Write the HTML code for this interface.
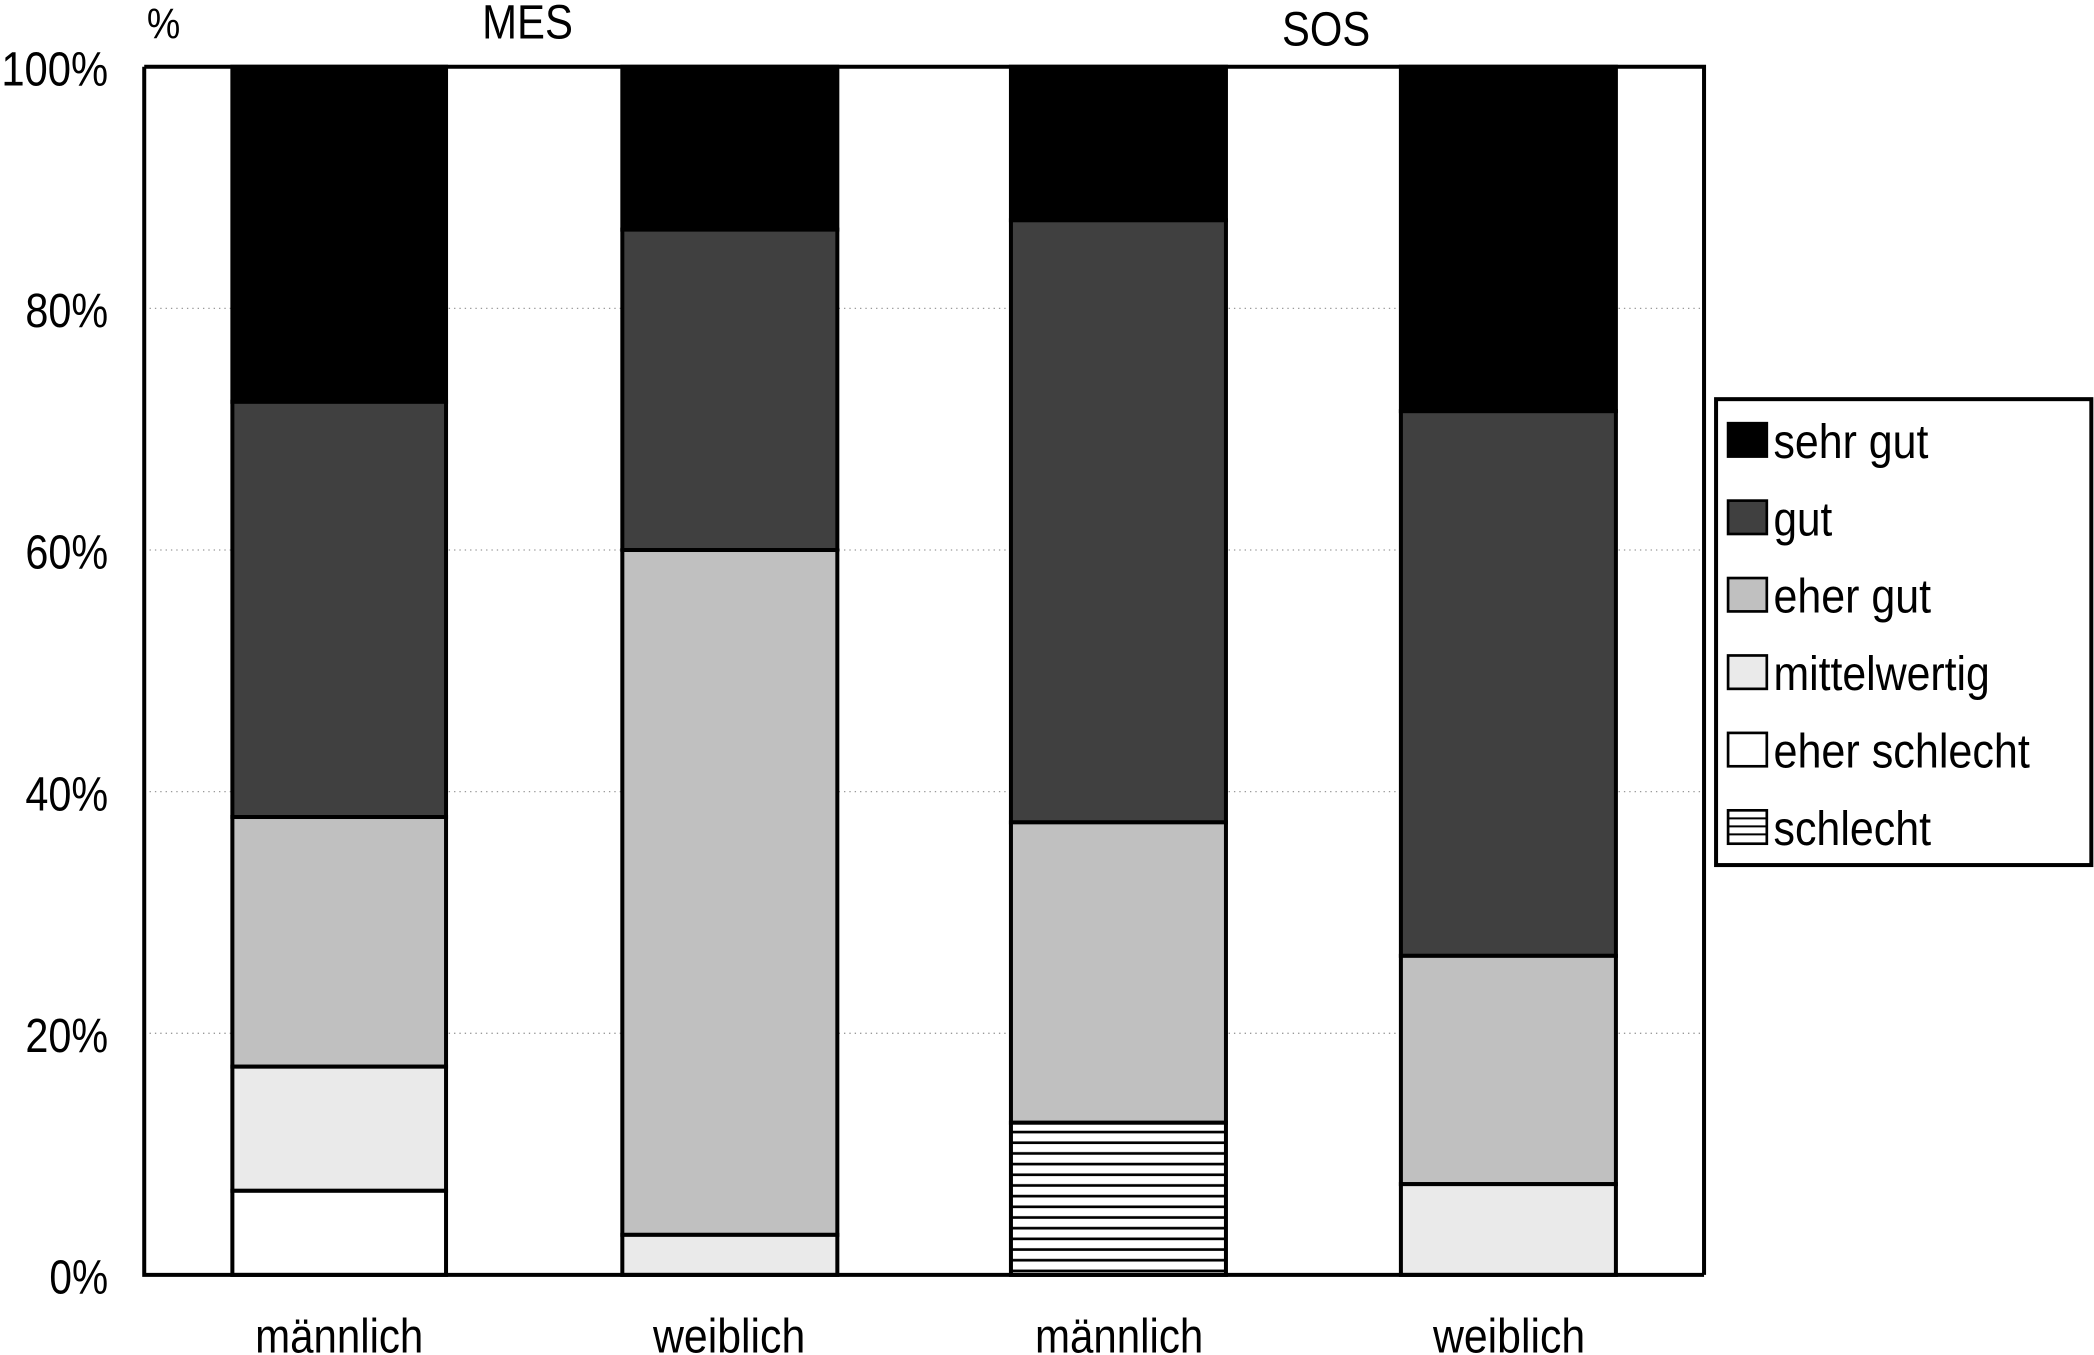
<!DOCTYPE html>
<html><head><meta charset="utf-8"><style>html,body{margin:0;padding:0;background:#fff}svg{display:block}</style></head>
<body>
<svg width="2094" height="1355" viewBox="0 0 1568 1015" preserveAspectRatio="none" xmlns="http://www.w3.org/2000/svg" font-family="Liberation Sans Narrow, Liberation Sans, sans-serif">
<defs>
<pattern id="h" width="10" height="8" patternUnits="userSpaceOnUse" y="841">
<rect width="10" height="8" fill="#fff"/><rect y="6" width="10" height="2" fill="#000"/>
</pattern>
</defs>
<g stroke="#999" stroke-width="1" stroke-dasharray="1,3">
<line x1="108" y1="231" x2="1276" y2="231"/><line x1="108" y1="412" x2="1276" y2="412"/>
<line x1="108" y1="593" x2="1276" y2="593"/><line x1="108" y1="774" x2="1276" y2="774"/>
</g>
<g stroke="#000" stroke-width="3">
<rect x="174" y="50" width="160" height="251" fill="#000"/>
<rect x="174" y="301" width="160" height="311" fill="#404040"/>
<rect x="174" y="612" width="160" height="187" fill="#c0c0c0"/>
<rect x="174" y="799" width="160" height="93" fill="#eaeaea"/>
<rect x="174" y="892" width="160" height="63" fill="#fff"/>
<rect x="466" y="50" width="161" height="122" fill="#000"/>
<rect x="466" y="172" width="161" height="240" fill="#404040"/>
<rect x="466" y="412" width="161" height="513" fill="#c0c0c0"/>
<rect x="466" y="925" width="161" height="30" fill="#eaeaea"/>
<rect x="757" y="50" width="161" height="115" fill="#000"/>
<rect x="757" y="165" width="161" height="451" fill="#404040"/>
<rect x="757" y="616" width="161" height="225" fill="#c0c0c0"/>
<rect x="757" y="841" width="161" height="114" fill="url(#h)"/>
<rect x="1049" y="50" width="161" height="258" fill="#000"/>
<rect x="1049" y="308" width="161" height="408" fill="#404040"/>
<rect x="1049" y="716" width="161" height="171" fill="#c0c0c0"/>
<rect x="1049" y="887" width="161" height="68" fill="#eaeaea"/>
</g>
<path d="M108 50 H1276 V955 M108 50 V955 H1276" fill="none" stroke="#000" stroke-width="3"/>
<g font-size="36" text-anchor="end" lengthAdjust="spacingAndGlyphs">
<text x="81" y="64" textLength="80" lengthAdjust="spacingAndGlyphs">100%</text>
<text x="81" y="245" textLength="62" lengthAdjust="spacingAndGlyphs">80%</text>
<text x="81" y="426" textLength="62" lengthAdjust="spacingAndGlyphs">60%</text>
<text x="81" y="607" textLength="62" lengthAdjust="spacingAndGlyphs">40%</text>
<text x="81" y="788" textLength="62" lengthAdjust="spacingAndGlyphs">20%</text>
<text x="81" y="969" textLength="44" lengthAdjust="spacingAndGlyphs">0%</text>
</g>
<g font-size="36" text-anchor="middle">
<text x="254" y="1013" textLength="126" lengthAdjust="spacingAndGlyphs">männlich</text>
<text x="546" y="1013" textLength="114" lengthAdjust="spacingAndGlyphs">weiblich</text>
<text x="838" y="1013" textLength="126" lengthAdjust="spacingAndGlyphs">männlich</text>
<text x="1130" y="1013" textLength="114" lengthAdjust="spacingAndGlyphs">weiblich</text>
<text x="395" y="29" textLength="68" lengthAdjust="spacingAndGlyphs">MES</text>
<text x="993" y="34" textLength="66" lengthAdjust="spacingAndGlyphs">SOS</text>
</g>
<text x="110" y="29" font-size="32" textLength="25" lengthAdjust="spacingAndGlyphs">%</text>
<rect x="1285" y="299" width="281" height="349" fill="#fff" stroke="#000" stroke-width="3"/>
<g stroke="#000" stroke-width="2">
<rect x="1294" y="317" width="29" height="25" fill="#000"/>
<rect x="1294" y="375" width="29" height="25" fill="#404040"/>
<rect x="1294" y="433" width="29" height="25" fill="#c0c0c0"/>
<rect x="1294" y="491" width="29" height="25" fill="#eaeaea"/>
<rect x="1294" y="549" width="29" height="25" fill="#fff"/>
<rect x="1294" y="607" width="29" height="25" fill="#fff"/>
</g>
<g stroke="#000" stroke-width="1.5">
<line x1="1294" y1="613" x2="1323" y2="613"/><line x1="1294" y1="619" x2="1323" y2="619"/><line x1="1294" y1="625" x2="1323" y2="625"/>
</g>
<g font-size="36">
<text x="1328" y="343" textLength="116" lengthAdjust="spacingAndGlyphs">sehr gut</text>
<text x="1328" y="401" textLength="44" lengthAdjust="spacingAndGlyphs">gut</text>
<text x="1328" y="459" textLength="118" lengthAdjust="spacingAndGlyphs">eher gut</text>
<text x="1328" y="517" textLength="162" lengthAdjust="spacingAndGlyphs">mittelwertig</text>
<text x="1328" y="575" textLength="192" lengthAdjust="spacingAndGlyphs">eher schlecht</text>
<text x="1328" y="633" textLength="118" lengthAdjust="spacingAndGlyphs">schlecht</text>
</g>
</svg>
</body></html>
